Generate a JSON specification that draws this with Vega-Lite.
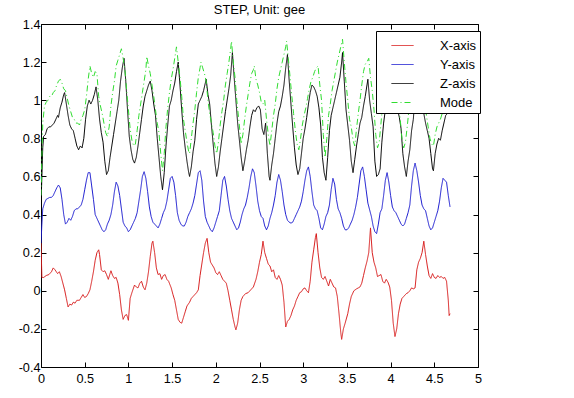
{
"$schema": "https://vega.github.io/schema/vega-lite/v6.json",
"width": 437, "height": 343,
"autosize": {"type": "none"},
"padding": {"left": 41, "top": 24, "right": 96, "bottom": 31},
"background": "white",
"title": {"text": "STEP, Unit: gee", "font": "Liberation Sans", "fontSize": 13, "fontWeight": "normal", "color": "#000", "offset": 1, "anchor": "middle", "frame": "group"},
"config": {
  "view": {"stroke": "#000", "strokeWidth": 1},
  "axis": {"domain": false, "grid": false, "tickColor": "#000", "tickSize": -5, "tickWidth": 1, "labelFont": "Liberation Sans", "labelFontSize": 12.7, "labelColor": "#000", "title": null},
  "legend": {"labelFont": "Liberation Sans", "labelFontSize": 13, "labelColor": "#000"}
},
"data": {"values": [
{"s":"X-axis","t":0,"v":0.25},{"s":"X-axis","t":0.01,"v":0.07},{"s":"X-axis","t":0.03,"v":0.07},{"s":"X-axis","t":0.06,"v":0.08},{"s":"X-axis","t":0.09,"v":0.085},{"s":"X-axis","t":0.12,"v":0.1},{"s":"X-axis","t":0.14,"v":0.12},{"s":"X-axis","t":0.16,"v":0.11},{"s":"X-axis","t":0.19,"v":0.09},{"s":"X-axis","t":0.21,"v":0.1},{"s":"X-axis","t":0.23,"v":0.075},{"s":"X-axis","t":0.25,"v":0.04},{"s":"X-axis","t":0.27,"v":0.005},{"s":"X-axis","t":0.29,"v":-0.04},{"s":"X-axis","t":0.31,"v":-0.085},{"s":"X-axis","t":0.33,"v":-0.07},{"s":"X-axis","t":0.35,"v":-0.075},{"s":"X-axis","t":0.37,"v":-0.06},{"s":"X-axis","t":0.39,"v":-0.065},{"s":"X-axis","t":0.41,"v":-0.05},{"s":"X-axis","t":0.44,"v":-0.05},{"s":"X-axis","t":0.46,"v":-0.035},{"s":"X-axis","t":0.48,"v":-0.02},{"s":"X-axis","t":0.5,"v":-0.035},{"s":"X-axis","t":0.52,"v":-0.03},{"s":"X-axis","t":0.54,"v":-0.015},{"s":"X-axis","t":0.56,"v":0.005},{"s":"X-axis","t":0.58,"v":0.05},{"s":"X-axis","t":0.6,"v":0.1},{"s":"X-axis","t":0.62,"v":0.16},{"s":"X-axis","t":0.64,"v":0.2},{"s":"X-axis","t":0.66,"v":0.215},{"s":"X-axis","t":0.67,"v":0.19},{"s":"X-axis","t":0.69,"v":0.11},{"s":"X-axis","t":0.71,"v":0.1},{"s":"X-axis","t":0.73,"v":0.105},{"s":"X-axis","t":0.75,"v":0.085},{"s":"X-axis","t":0.77,"v":0.06},{"s":"X-axis","t":0.79,"v":0.09},{"s":"X-axis","t":0.8,"v":0.105},{"s":"X-axis","t":0.82,"v":0.08},{"s":"X-axis","t":0.84,"v":0.065},{"s":"X-axis","t":0.86,"v":0.07},{"s":"X-axis","t":0.88,"v":0.04},{"s":"X-axis","t":0.9,"v":-0.02},{"s":"X-axis","t":0.92,"v":-0.1},{"s":"X-axis","t":0.94,"v":-0.15},{"s":"X-axis","t":0.96,"v":-0.13},{"s":"X-axis","t":0.98,"v":-0.125},{"s":"X-axis","t":1.0,"v":-0.155},{"s":"X-axis","t":1.02,"v":-0.04},{"s":"X-axis","t":1.04,"v":-0.01},{"s":"X-axis","t":1.07,"v":0.03},{"s":"X-axis","t":1.09,"v":0.02},{"s":"X-axis","t":1.11,"v":0.015},{"s":"X-axis","t":1.13,"v":0.04},{"s":"X-axis","t":1.15,"v":0.05},{"s":"X-axis","t":1.17,"v":0.02},{"s":"X-axis","t":1.19,"v":0.005},{"s":"X-axis","t":1.21,"v":0.04},{"s":"X-axis","t":1.23,"v":0.1},{"s":"X-axis","t":1.25,"v":0.18},{"s":"X-axis","t":1.27,"v":0.25},{"s":"X-axis","t":1.28,"v":0.26},{"s":"X-axis","t":1.3,"v":0.2},{"s":"X-axis","t":1.32,"v":0.12},{"s":"X-axis","t":1.34,"v":0.085},{"s":"X-axis","t":1.36,"v":0.09},{"s":"X-axis","t":1.38,"v":0.06},{"s":"X-axis","t":1.4,"v":0.08},{"s":"X-axis","t":1.42,"v":0.085},{"s":"X-axis","t":1.44,"v":0.06},{"s":"X-axis","t":1.46,"v":0.05},{"s":"X-axis","t":1.49,"v":0.015},{"s":"X-axis","t":1.51,"v":-0.02},{"s":"X-axis","t":1.53,"v":-0.05},{"s":"X-axis","t":1.55,"v":-0.1},{"s":"X-axis","t":1.57,"v":-0.15},{"s":"X-axis","t":1.59,"v":-0.165},{"s":"X-axis","t":1.61,"v":-0.17},{"s":"X-axis","t":1.63,"v":-0.14},{"s":"X-axis","t":1.65,"v":-0.11},{"s":"X-axis","t":1.67,"v":-0.08},{"s":"X-axis","t":1.7,"v":-0.06},{"s":"X-axis","t":1.72,"v":-0.04},{"s":"X-axis","t":1.74,"v":-0.03},{"s":"X-axis","t":1.76,"v":-0.02},{"s":"X-axis","t":1.78,"v":-0.01},{"s":"X-axis","t":1.8,"v":0.005},{"s":"X-axis","t":1.82,"v":0.08},{"s":"X-axis","t":1.84,"v":0.14},{"s":"X-axis","t":1.86,"v":0.2},{"s":"X-axis","t":1.88,"v":0.25},{"s":"X-axis","t":1.9,"v":0.275},{"s":"X-axis","t":1.92,"v":0.2},{"s":"X-axis","t":1.94,"v":0.15},{"s":"X-axis","t":1.96,"v":0.135},{"s":"X-axis","t":1.98,"v":0.12},{"s":"X-axis","t":2.0,"v":0.095},{"s":"X-axis","t":2.02,"v":0.085},{"s":"X-axis","t":2.04,"v":0.1},{"s":"X-axis","t":2.06,"v":0.08},{"s":"X-axis","t":2.08,"v":0.06},{"s":"X-axis","t":2.1,"v":0.05},{"s":"X-axis","t":2.12,"v":0.04},{"s":"X-axis","t":2.14,"v":0.0},{"s":"X-axis","t":2.16,"v":-0.05},{"s":"X-axis","t":2.18,"v":-0.1},{"s":"X-axis","t":2.2,"v":-0.15},{"s":"X-axis","t":2.22,"v":-0.19},{"s":"X-axis","t":2.23,"v":-0.205},{"s":"X-axis","t":2.25,"v":-0.17},{"s":"X-axis","t":2.27,"v":-0.1},{"s":"X-axis","t":2.29,"v":-0.05},{"s":"X-axis","t":2.31,"v":-0.03},{"s":"X-axis","t":2.34,"v":-0.015},{"s":"X-axis","t":2.37,"v":-0.01},{"s":"X-axis","t":2.4,"v":0.005},{"s":"X-axis","t":2.43,"v":0.02},{"s":"X-axis","t":2.46,"v":0.06},{"s":"X-axis","t":2.48,"v":0.1},{"s":"X-axis","t":2.5,"v":0.15},{"s":"X-axis","t":2.52,"v":0.19},{"s":"X-axis","t":2.54,"v":0.26},{"s":"X-axis","t":2.56,"v":0.2},{"s":"X-axis","t":2.58,"v":0.17},{"s":"X-axis","t":2.6,"v":0.14},{"s":"X-axis","t":2.62,"v":0.13},{"s":"X-axis","t":2.64,"v":0.1},{"s":"X-axis","t":2.66,"v":0.11},{"s":"X-axis","t":2.68,"v":0.07},{"s":"X-axis","t":2.7,"v":0.06},{"s":"X-axis","t":2.72,"v":0.08},{"s":"X-axis","t":2.74,"v":0.06},{"s":"X-axis","t":2.76,"v":0.03},{"s":"X-axis","t":2.78,"v":-0.06},{"s":"X-axis","t":2.8,"v":-0.19},{"s":"X-axis","t":2.82,"v":-0.16},{"s":"X-axis","t":2.84,"v":-0.15},{"s":"X-axis","t":2.86,"v":-0.13},{"s":"X-axis","t":2.88,"v":-0.1},{"s":"X-axis","t":2.9,"v":-0.08},{"s":"X-axis","t":2.92,"v":-0.05},{"s":"X-axis","t":2.94,"v":-0.03},{"s":"X-axis","t":2.96,"v":-0.01},{"s":"X-axis","t":2.98,"v":-0.005},{"s":"X-axis","t":3.0,"v":0.01},{"s":"X-axis","t":3.02,"v":0.015},{"s":"X-axis","t":3.04,"v":0.0},{"s":"X-axis","t":3.06,"v":-0.01},{"s":"X-axis","t":3.08,"v":0.05},{"s":"X-axis","t":3.1,"v":0.15},{"s":"X-axis","t":3.12,"v":0.215},{"s":"X-axis","t":3.14,"v":0.28},{"s":"X-axis","t":3.15,"v":0.3},{"s":"X-axis","t":3.17,"v":0.2},{"s":"X-axis","t":3.19,"v":0.12},{"s":"X-axis","t":3.21,"v":0.07},{"s":"X-axis","t":3.23,"v":0.06},{"s":"X-axis","t":3.25,"v":0.075},{"s":"X-axis","t":3.27,"v":0.05},{"s":"X-axis","t":3.29,"v":0.025},{"s":"X-axis","t":3.31,"v":0.06},{"s":"X-axis","t":3.33,"v":0.04},{"s":"X-axis","t":3.35,"v":0.02},{"s":"X-axis","t":3.37,"v":0.015},{"s":"X-axis","t":3.39,"v":-0.03},{"s":"X-axis","t":3.41,"v":-0.12},{"s":"X-axis","t":3.43,"v":-0.22},{"s":"X-axis","t":3.44,"v":-0.255},{"s":"X-axis","t":3.46,"v":-0.2},{"s":"X-axis","t":3.48,"v":-0.17},{"s":"X-axis","t":3.51,"v":-0.12},{"s":"X-axis","t":3.53,"v":-0.07},{"s":"X-axis","t":3.55,"v":-0.03},{"s":"X-axis","t":3.58,"v":0.0},{"s":"X-axis","t":3.61,"v":0.01},{"s":"X-axis","t":3.63,"v":0.015},{"s":"X-axis","t":3.65,"v":0.02},{"s":"X-axis","t":3.67,"v":0.04},{"s":"X-axis","t":3.69,"v":0.08},{"s":"X-axis","t":3.71,"v":0.12},{"s":"X-axis","t":3.73,"v":0.155},{"s":"X-axis","t":3.75,"v":0.2},{"s":"X-axis","t":3.77,"v":0.33},{"s":"X-axis","t":3.79,"v":0.2},{"s":"X-axis","t":3.81,"v":0.15},{"s":"X-axis","t":3.83,"v":0.12},{"s":"X-axis","t":3.85,"v":0.075},{"s":"X-axis","t":3.87,"v":0.08},{"s":"X-axis","t":3.89,"v":0.085},{"s":"X-axis","t":3.91,"v":0.05},{"s":"X-axis","t":3.93,"v":0.04},{"s":"X-axis","t":3.95,"v":0.06},{"s":"X-axis","t":3.97,"v":0.045},{"s":"X-axis","t":3.99,"v":0.02},{"s":"X-axis","t":4.01,"v":-0.05},{"s":"X-axis","t":4.03,"v":-0.17},{"s":"X-axis","t":4.05,"v":-0.24},{"s":"X-axis","t":4.07,"v":-0.2},{"s":"X-axis","t":4.09,"v":-0.12},{"s":"X-axis","t":4.11,"v":-0.07},{"s":"X-axis","t":4.13,"v":-0.04},{"s":"X-axis","t":4.15,"v":-0.03},{"s":"X-axis","t":4.18,"v":-0.015},{"s":"X-axis","t":4.2,"v":-0.01},{"s":"X-axis","t":4.22,"v":0.0},{"s":"X-axis","t":4.24,"v":0.015},{"s":"X-axis","t":4.26,"v":0.01},{"s":"X-axis","t":4.28,"v":0.015},{"s":"X-axis","t":4.3,"v":0.11},{"s":"X-axis","t":4.32,"v":0.15},{"s":"X-axis","t":4.34,"v":0.17},{"s":"X-axis","t":4.36,"v":0.2},{"s":"X-axis","t":4.38,"v":0.26},{"s":"X-axis","t":4.4,"v":0.19},{"s":"X-axis","t":4.42,"v":0.13},{"s":"X-axis","t":4.44,"v":0.08},{"s":"X-axis","t":4.46,"v":0.065},{"s":"X-axis","t":4.48,"v":0.09},{"s":"X-axis","t":4.5,"v":0.07},{"s":"X-axis","t":4.52,"v":0.065},{"s":"X-axis","t":4.54,"v":0.08},{"s":"X-axis","t":4.56,"v":0.07},{"s":"X-axis","t":4.58,"v":0.075},{"s":"X-axis","t":4.6,"v":0.065},{"s":"X-axis","t":4.62,"v":0.07},{"s":"X-axis","t":4.64,"v":0.05},{"s":"X-axis","t":4.66,"v":-0.05},{"s":"X-axis","t":4.67,"v":-0.13},{"s":"X-axis","t":4.68,"v":-0.12},
{"s":"Y-axis","t":0,"v":0.25},{"s":"Y-axis","t":0.01,"v":0.35},{"s":"Y-axis","t":0.02,"v":0.43},{"s":"Y-axis","t":0.04,"v":0.46},{"s":"Y-axis","t":0.06,"v":0.48},{"s":"Y-axis","t":0.08,"v":0.485},{"s":"Y-axis","t":0.1,"v":0.49},{"s":"Y-axis","t":0.12,"v":0.49},{"s":"Y-axis","t":0.14,"v":0.5},{"s":"Y-axis","t":0.16,"v":0.52},{"s":"Y-axis","t":0.18,"v":0.54},{"s":"Y-axis","t":0.2,"v":0.555},{"s":"Y-axis","t":0.22,"v":0.54},{"s":"Y-axis","t":0.24,"v":0.48},{"s":"Y-axis","t":0.26,"v":0.4},{"s":"Y-axis","t":0.28,"v":0.35},{"s":"Y-axis","t":0.3,"v":0.36},{"s":"Y-axis","t":0.32,"v":0.38},{"s":"Y-axis","t":0.34,"v":0.37},{"s":"Y-axis","t":0.36,"v":0.39},{"s":"Y-axis","t":0.38,"v":0.42},{"s":"Y-axis","t":0.4,"v":0.43},{"s":"Y-axis","t":0.42,"v":0.43},{"s":"Y-axis","t":0.44,"v":0.44},{"s":"Y-axis","t":0.46,"v":0.45},{"s":"Y-axis","t":0.48,"v":0.48},{"s":"Y-axis","t":0.5,"v":0.53},{"s":"Y-axis","t":0.52,"v":0.58},{"s":"Y-axis","t":0.54,"v":0.62},{"s":"Y-axis","t":0.56,"v":0.62},{"s":"Y-axis","t":0.58,"v":0.55},{"s":"Y-axis","t":0.6,"v":0.48},{"s":"Y-axis","t":0.62,"v":0.4},{"s":"Y-axis","t":0.64,"v":0.38},{"s":"Y-axis","t":0.66,"v":0.36},{"s":"Y-axis","t":0.68,"v":0.34},{"s":"Y-axis","t":0.7,"v":0.32},{"s":"Y-axis","t":0.72,"v":0.31},{"s":"Y-axis","t":0.74,"v":0.32},{"s":"Y-axis","t":0.76,"v":0.35},{"s":"Y-axis","t":0.78,"v":0.37},{"s":"Y-axis","t":0.8,"v":0.4},{"s":"Y-axis","t":0.82,"v":0.45},{"s":"Y-axis","t":0.84,"v":0.52},{"s":"Y-axis","t":0.86,"v":0.57},{"s":"Y-axis","t":0.88,"v":0.55},{"s":"Y-axis","t":0.9,"v":0.5},{"s":"Y-axis","t":0.92,"v":0.43},{"s":"Y-axis","t":0.94,"v":0.36},{"s":"Y-axis","t":0.96,"v":0.34},{"s":"Y-axis","t":0.98,"v":0.33},{"s":"Y-axis","t":1.0,"v":0.31},{"s":"Y-axis","t":1.02,"v":0.32},{"s":"Y-axis","t":1.04,"v":0.34},{"s":"Y-axis","t":1.06,"v":0.36},{"s":"Y-axis","t":1.08,"v":0.38},{"s":"Y-axis","t":1.1,"v":0.41},{"s":"Y-axis","t":1.12,"v":0.47},{"s":"Y-axis","t":1.14,"v":0.53},{"s":"Y-axis","t":1.16,"v":0.6},{"s":"Y-axis","t":1.18,"v":0.625},{"s":"Y-axis","t":1.2,"v":0.59},{"s":"Y-axis","t":1.22,"v":0.52},{"s":"Y-axis","t":1.24,"v":0.44},{"s":"Y-axis","t":1.26,"v":0.39},{"s":"Y-axis","t":1.28,"v":0.36},{"s":"Y-axis","t":1.3,"v":0.35},{"s":"Y-axis","t":1.32,"v":0.34},{"s":"Y-axis","t":1.34,"v":0.33},{"s":"Y-axis","t":1.36,"v":0.35},{"s":"Y-axis","t":1.38,"v":0.38},{"s":"Y-axis","t":1.4,"v":0.41},{"s":"Y-axis","t":1.42,"v":0.43},{"s":"Y-axis","t":1.44,"v":0.47},{"s":"Y-axis","t":1.46,"v":0.53},{"s":"Y-axis","t":1.48,"v":0.59},{"s":"Y-axis","t":1.5,"v":0.6},{"s":"Y-axis","t":1.52,"v":0.57},{"s":"Y-axis","t":1.54,"v":0.5},{"s":"Y-axis","t":1.56,"v":0.41},{"s":"Y-axis","t":1.58,"v":0.37},{"s":"Y-axis","t":1.6,"v":0.35},{"s":"Y-axis","t":1.62,"v":0.34},{"s":"Y-axis","t":1.64,"v":0.34},{"s":"Y-axis","t":1.66,"v":0.36},{"s":"Y-axis","t":1.68,"v":0.39},{"s":"Y-axis","t":1.7,"v":0.41},{"s":"Y-axis","t":1.72,"v":0.43},{"s":"Y-axis","t":1.74,"v":0.46},{"s":"Y-axis","t":1.76,"v":0.5},{"s":"Y-axis","t":1.78,"v":0.56},{"s":"Y-axis","t":1.8,"v":0.62},{"s":"Y-axis","t":1.82,"v":0.63},{"s":"Y-axis","t":1.84,"v":0.58},{"s":"Y-axis","t":1.86,"v":0.47},{"s":"Y-axis","t":1.88,"v":0.39},{"s":"Y-axis","t":1.9,"v":0.36},{"s":"Y-axis","t":1.92,"v":0.34},{"s":"Y-axis","t":1.94,"v":0.32},{"s":"Y-axis","t":1.96,"v":0.31},{"s":"Y-axis","t":1.98,"v":0.33},{"s":"Y-axis","t":2.0,"v":0.36},{"s":"Y-axis","t":2.02,"v":0.39},{"s":"Y-axis","t":2.04,"v":0.42},{"s":"Y-axis","t":2.06,"v":0.5},{"s":"Y-axis","t":2.08,"v":0.58},{"s":"Y-axis","t":2.1,"v":0.6},{"s":"Y-axis","t":2.12,"v":0.55},{"s":"Y-axis","t":2.14,"v":0.48},{"s":"Y-axis","t":2.16,"v":0.42},{"s":"Y-axis","t":2.18,"v":0.38},{"s":"Y-axis","t":2.2,"v":0.36},{"s":"Y-axis","t":2.22,"v":0.34},{"s":"Y-axis","t":2.24,"v":0.32},{"s":"Y-axis","t":2.26,"v":0.33},{"s":"Y-axis","t":2.28,"v":0.36},{"s":"Y-axis","t":2.3,"v":0.4},{"s":"Y-axis","t":2.32,"v":0.43},{"s":"Y-axis","t":2.34,"v":0.45},{"s":"Y-axis","t":2.36,"v":0.49},{"s":"Y-axis","t":2.38,"v":0.54},{"s":"Y-axis","t":2.4,"v":0.6},{"s":"Y-axis","t":2.42,"v":0.64},{"s":"Y-axis","t":2.44,"v":0.62},{"s":"Y-axis","t":2.46,"v":0.55},{"s":"Y-axis","t":2.48,"v":0.47},{"s":"Y-axis","t":2.5,"v":0.42},{"s":"Y-axis","t":2.52,"v":0.39},{"s":"Y-axis","t":2.54,"v":0.38},{"s":"Y-axis","t":2.56,"v":0.34},{"s":"Y-axis","t":2.58,"v":0.32},{"s":"Y-axis","t":2.6,"v":0.34},{"s":"Y-axis","t":2.62,"v":0.38},{"s":"Y-axis","t":2.64,"v":0.41},{"s":"Y-axis","t":2.66,"v":0.45},{"s":"Y-axis","t":2.68,"v":0.5},{"s":"Y-axis","t":2.7,"v":0.57},{"s":"Y-axis","t":2.72,"v":0.61},{"s":"Y-axis","t":2.74,"v":0.58},{"s":"Y-axis","t":2.76,"v":0.52},{"s":"Y-axis","t":2.78,"v":0.45},{"s":"Y-axis","t":2.8,"v":0.4},{"s":"Y-axis","t":2.82,"v":0.37},{"s":"Y-axis","t":2.84,"v":0.36},{"s":"Y-axis","t":2.86,"v":0.355},{"s":"Y-axis","t":2.88,"v":0.36},{"s":"Y-axis","t":2.9,"v":0.38},{"s":"Y-axis","t":2.92,"v":0.4},{"s":"Y-axis","t":2.94,"v":0.42},{"s":"Y-axis","t":2.96,"v":0.44},{"s":"Y-axis","t":2.98,"v":0.47},{"s":"Y-axis","t":3.0,"v":0.52},{"s":"Y-axis","t":3.02,"v":0.58},{"s":"Y-axis","t":3.04,"v":0.63},{"s":"Y-axis","t":3.06,"v":0.65},{"s":"Y-axis","t":3.08,"v":0.6},{"s":"Y-axis","t":3.1,"v":0.52},{"s":"Y-axis","t":3.12,"v":0.45},{"s":"Y-axis","t":3.14,"v":0.43},{"s":"Y-axis","t":3.16,"v":0.42},{"s":"Y-axis","t":3.18,"v":0.38},{"s":"Y-axis","t":3.2,"v":0.33},{"s":"Y-axis","t":3.22,"v":0.32},{"s":"Y-axis","t":3.24,"v":0.35},{"s":"Y-axis","t":3.26,"v":0.39},{"s":"Y-axis","t":3.28,"v":0.41},{"s":"Y-axis","t":3.3,"v":0.45},{"s":"Y-axis","t":3.32,"v":0.53},{"s":"Y-axis","t":3.34,"v":0.59},{"s":"Y-axis","t":3.36,"v":0.56},{"s":"Y-axis","t":3.38,"v":0.48},{"s":"Y-axis","t":3.4,"v":0.43},{"s":"Y-axis","t":3.42,"v":0.41},{"s":"Y-axis","t":3.44,"v":0.38},{"s":"Y-axis","t":3.46,"v":0.34},{"s":"Y-axis","t":3.48,"v":0.32},{"s":"Y-axis","t":3.5,"v":0.32},{"s":"Y-axis","t":3.52,"v":0.33},{"s":"Y-axis","t":3.54,"v":0.35},{"s":"Y-axis","t":3.56,"v":0.37},{"s":"Y-axis","t":3.58,"v":0.4},{"s":"Y-axis","t":3.6,"v":0.44},{"s":"Y-axis","t":3.62,"v":0.49},{"s":"Y-axis","t":3.64,"v":0.56},{"s":"Y-axis","t":3.66,"v":0.63},{"s":"Y-axis","t":3.68,"v":0.65},{"s":"Y-axis","t":3.7,"v":0.6},{"s":"Y-axis","t":3.72,"v":0.53},{"s":"Y-axis","t":3.74,"v":0.46},{"s":"Y-axis","t":3.76,"v":0.425},{"s":"Y-axis","t":3.78,"v":0.39},{"s":"Y-axis","t":3.8,"v":0.34},{"s":"Y-axis","t":3.82,"v":0.31},{"s":"Y-axis","t":3.84,"v":0.3},{"s":"Y-axis","t":3.86,"v":0.35},{"s":"Y-axis","t":3.88,"v":0.41},{"s":"Y-axis","t":3.9,"v":0.43},{"s":"Y-axis","t":3.92,"v":0.5},{"s":"Y-axis","t":3.94,"v":0.58},{"s":"Y-axis","t":3.96,"v":0.62},{"s":"Y-axis","t":3.98,"v":0.57},{"s":"Y-axis","t":4.0,"v":0.5},{"s":"Y-axis","t":4.02,"v":0.44},{"s":"Y-axis","t":4.04,"v":0.42},{"s":"Y-axis","t":4.06,"v":0.41},{"s":"Y-axis","t":4.08,"v":0.39},{"s":"Y-axis","t":4.1,"v":0.37},{"s":"Y-axis","t":4.12,"v":0.35},{"s":"Y-axis","t":4.14,"v":0.34},{"s":"Y-axis","t":4.16,"v":0.35},{"s":"Y-axis","t":4.18,"v":0.38},{"s":"Y-axis","t":4.2,"v":0.41},{"s":"Y-axis","t":4.22,"v":0.45},{"s":"Y-axis","t":4.24,"v":0.55},{"s":"Y-axis","t":4.26,"v":0.63},{"s":"Y-axis","t":4.28,"v":0.67},{"s":"Y-axis","t":4.3,"v":0.63},{"s":"Y-axis","t":4.32,"v":0.57},{"s":"Y-axis","t":4.34,"v":0.5},{"s":"Y-axis","t":4.36,"v":0.45},{"s":"Y-axis","t":4.38,"v":0.43},{"s":"Y-axis","t":4.4,"v":0.42},{"s":"Y-axis","t":4.42,"v":0.38},{"s":"Y-axis","t":4.44,"v":0.34},{"s":"Y-axis","t":4.46,"v":0.32},{"s":"Y-axis","t":4.48,"v":0.33},{"s":"Y-axis","t":4.5,"v":0.36},{"s":"Y-axis","t":4.52,"v":0.39},{"s":"Y-axis","t":4.54,"v":0.42},{"s":"Y-axis","t":4.56,"v":0.47},{"s":"Y-axis","t":4.58,"v":0.54},{"s":"Y-axis","t":4.6,"v":0.59},{"s":"Y-axis","t":4.62,"v":0.58},{"s":"Y-axis","t":4.64,"v":0.57},{"s":"Y-axis","t":4.66,"v":0.5},{"s":"Y-axis","t":4.68,"v":0.44},
{"s":"Z-axis","t":0,"v":0.45},{"s":"Z-axis","t":0.01,"v":0.6},{"s":"Z-axis","t":0.02,"v":0.75},{"s":"Z-axis","t":0.03,"v":0.81},{"s":"Z-axis","t":0.05,"v":0.82},{"s":"Z-axis","t":0.07,"v":0.85},{"s":"Z-axis","t":0.09,"v":0.86},{"s":"Z-axis","t":0.11,"v":0.86},{"s":"Z-axis","t":0.13,"v":0.87},{"s":"Z-axis","t":0.15,"v":0.88},{"s":"Z-axis","t":0.17,"v":0.9},{"s":"Z-axis","t":0.19,"v":0.92},{"s":"Z-axis","t":0.2,"v":0.91},{"s":"Z-axis","t":0.22,"v":0.96},{"s":"Z-axis","t":0.24,"v":0.99},{"s":"Z-axis","t":0.26,"v":1.03},{"s":"Z-axis","t":0.27,"v":1.04},{"s":"Z-axis","t":0.29,"v":0.98},{"s":"Z-axis","t":0.31,"v":0.92},{"s":"Z-axis","t":0.33,"v":0.87},{"s":"Z-axis","t":0.35,"v":0.85},{"s":"Z-axis","t":0.37,"v":0.84},{"s":"Z-axis","t":0.39,"v":0.8},{"s":"Z-axis","t":0.41,"v":0.76},{"s":"Z-axis","t":0.43,"v":0.74},{"s":"Z-axis","t":0.45,"v":0.76},{"s":"Z-axis","t":0.47,"v":0.75},{"s":"Z-axis","t":0.49,"v":0.8},{"s":"Z-axis","t":0.51,"v":0.9},{"s":"Z-axis","t":0.53,"v":0.97},{"s":"Z-axis","t":0.55,"v":1.0},{"s":"Z-axis","t":0.57,"v":0.98},{"s":"Z-axis","t":0.59,"v":1.0},{"s":"Z-axis","t":0.61,"v":1.03},{"s":"Z-axis","t":0.63,"v":1.07},{"s":"Z-axis","t":0.65,"v":1.0},{"s":"Z-axis","t":0.67,"v":0.9},{"s":"Z-axis","t":0.69,"v":0.83},{"s":"Z-axis","t":0.71,"v":0.78},{"s":"Z-axis","t":0.73,"v":0.68},{"s":"Z-axis","t":0.75,"v":0.61},{"s":"Z-axis","t":0.77,"v":0.63},{"s":"Z-axis","t":0.79,"v":0.7},{"s":"Z-axis","t":0.81,"v":0.76},{"s":"Z-axis","t":0.83,"v":0.82},{"s":"Z-axis","t":0.85,"v":0.88},{"s":"Z-axis","t":0.87,"v":0.94},{"s":"Z-axis","t":0.89,"v":1.0},{"s":"Z-axis","t":0.91,"v":1.1},{"s":"Z-axis","t":0.93,"v":1.17},{"s":"Z-axis","t":0.95,"v":1.22},{"s":"Z-axis","t":0.97,"v":1.1},{"s":"Z-axis","t":0.99,"v":0.95},{"s":"Z-axis","t":1.01,"v":0.81},{"s":"Z-axis","t":1.03,"v":0.74},{"s":"Z-axis","t":1.05,"v":0.69},{"s":"Z-axis","t":1.07,"v":0.67},{"s":"Z-axis","t":1.09,"v":0.7},{"s":"Z-axis","t":1.11,"v":0.76},{"s":"Z-axis","t":1.13,"v":0.83},{"s":"Z-axis","t":1.15,"v":0.9},{"s":"Z-axis","t":1.17,"v":0.97},{"s":"Z-axis","t":1.19,"v":1.02},{"s":"Z-axis","t":1.21,"v":1.05},{"s":"Z-axis","t":1.23,"v":1.08},{"s":"Z-axis","t":1.25,"v":1.1},{"s":"Z-axis","t":1.27,"v":1.05},{"s":"Z-axis","t":1.29,"v":0.98},{"s":"Z-axis","t":1.31,"v":0.92},{"s":"Z-axis","t":1.33,"v":0.8},{"s":"Z-axis","t":1.35,"v":0.7},{"s":"Z-axis","t":1.37,"v":0.6},{"s":"Z-axis","t":1.39,"v":0.53},{"s":"Z-axis","t":1.41,"v":0.62},{"s":"Z-axis","t":1.43,"v":0.76},{"s":"Z-axis","t":1.45,"v":0.87},{"s":"Z-axis","t":1.47,"v":0.97},{"s":"Z-axis","t":1.49,"v":1.0},{"s":"Z-axis","t":1.51,"v":1.05},{"s":"Z-axis","t":1.53,"v":1.09},{"s":"Z-axis","t":1.55,"v":1.15},{"s":"Z-axis","t":1.57,"v":1.2},{"s":"Z-axis","t":1.59,"v":1.08},{"s":"Z-axis","t":1.61,"v":0.95},{"s":"Z-axis","t":1.63,"v":0.83},{"s":"Z-axis","t":1.65,"v":0.75},{"s":"Z-axis","t":1.67,"v":0.68},{"s":"Z-axis","t":1.69,"v":0.62},{"s":"Z-axis","t":1.7,"v":0.6},{"s":"Z-axis","t":1.72,"v":0.65},{"s":"Z-axis","t":1.74,"v":0.73},{"s":"Z-axis","t":1.76,"v":0.79},{"s":"Z-axis","t":1.78,"v":0.9},{"s":"Z-axis","t":1.8,"v":0.98},{"s":"Z-axis","t":1.82,"v":1.0},{"s":"Z-axis","t":1.84,"v":1.02},{"s":"Z-axis","t":1.86,"v":1.05},{"s":"Z-axis","t":1.88,"v":1.09},{"s":"Z-axis","t":1.89,"v":1.11},{"s":"Z-axis","t":1.91,"v":1.03},{"s":"Z-axis","t":1.93,"v":0.98},{"s":"Z-axis","t":1.95,"v":0.87},{"s":"Z-axis","t":1.97,"v":0.77},{"s":"Z-axis","t":1.99,"v":0.67},{"s":"Z-axis","t":2.01,"v":0.6},{"s":"Z-axis","t":2.03,"v":0.65},{"s":"Z-axis","t":2.05,"v":0.73},{"s":"Z-axis","t":2.07,"v":0.8},{"s":"Z-axis","t":2.09,"v":0.87},{"s":"Z-axis","t":2.11,"v":0.94},{"s":"Z-axis","t":2.13,"v":1.0},{"s":"Z-axis","t":2.15,"v":1.06},{"s":"Z-axis","t":2.17,"v":1.13},{"s":"Z-axis","t":2.19,"v":1.25},{"s":"Z-axis","t":2.21,"v":1.12},{"s":"Z-axis","t":2.23,"v":1.0},{"s":"Z-axis","t":2.25,"v":0.88},{"s":"Z-axis","t":2.27,"v":0.79},{"s":"Z-axis","t":2.29,"v":0.7},{"s":"Z-axis","t":2.31,"v":0.63},{"s":"Z-axis","t":2.33,"v":0.68},{"s":"Z-axis","t":2.35,"v":0.74},{"s":"Z-axis","t":2.37,"v":0.79},{"s":"Z-axis","t":2.39,"v":0.86},{"s":"Z-axis","t":2.41,"v":0.92},{"s":"Z-axis","t":2.43,"v":0.95},{"s":"Z-axis","t":2.45,"v":0.94},{"s":"Z-axis","t":2.47,"v":0.96},{"s":"Z-axis","t":2.49,"v":0.97},{"s":"Z-axis","t":2.51,"v":0.95},{"s":"Z-axis","t":2.53,"v":0.85},{"s":"Z-axis","t":2.55,"v":0.82},{"s":"Z-axis","t":2.57,"v":0.88},{"s":"Z-axis","t":2.59,"v":0.72},{"s":"Z-axis","t":2.61,"v":0.6},{"s":"Z-axis","t":2.62,"v":0.58},{"s":"Z-axis","t":2.64,"v":0.66},{"s":"Z-axis","t":2.66,"v":0.72},{"s":"Z-axis","t":2.68,"v":0.8},{"s":"Z-axis","t":2.7,"v":0.88},{"s":"Z-axis","t":2.72,"v":0.94},{"s":"Z-axis","t":2.74,"v":0.97},{"s":"Z-axis","t":2.76,"v":1.02},{"s":"Z-axis","t":2.78,"v":1.08},{"s":"Z-axis","t":2.8,"v":1.17},{"s":"Z-axis","t":2.82,"v":1.24},{"s":"Z-axis","t":2.84,"v":1.1},{"s":"Z-axis","t":2.86,"v":0.98},{"s":"Z-axis","t":2.88,"v":0.86},{"s":"Z-axis","t":2.9,"v":0.75},{"s":"Z-axis","t":2.92,"v":0.66},{"s":"Z-axis","t":2.94,"v":0.61},{"s":"Z-axis","t":2.96,"v":0.64},{"s":"Z-axis","t":2.98,"v":0.72},{"s":"Z-axis","t":3.0,"v":0.8},{"s":"Z-axis","t":3.02,"v":0.85},{"s":"Z-axis","t":3.04,"v":0.91},{"s":"Z-axis","t":3.06,"v":0.98},{"s":"Z-axis","t":3.08,"v":1.04},{"s":"Z-axis","t":3.1,"v":1.08},{"s":"Z-axis","t":3.12,"v":1.07},{"s":"Z-axis","t":3.14,"v":1.05},{"s":"Z-axis","t":3.16,"v":1.02},{"s":"Z-axis","t":3.18,"v":0.96},{"s":"Z-axis","t":3.2,"v":0.87},{"s":"Z-axis","t":3.22,"v":0.7},{"s":"Z-axis","t":3.24,"v":0.62},{"s":"Z-axis","t":3.26,"v":0.58},{"s":"Z-axis","t":3.28,"v":0.7},{"s":"Z-axis","t":3.3,"v":0.84},{"s":"Z-axis","t":3.32,"v":0.92},{"s":"Z-axis","t":3.34,"v":0.96},{"s":"Z-axis","t":3.36,"v":1.0},{"s":"Z-axis","t":3.38,"v":1.04},{"s":"Z-axis","t":3.4,"v":1.08},{"s":"Z-axis","t":3.42,"v":1.12},{"s":"Z-axis","t":3.44,"v":1.2},{"s":"Z-axis","t":3.45,"v":1.25},{"s":"Z-axis","t":3.47,"v":1.1},{"s":"Z-axis","t":3.49,"v":0.95},{"s":"Z-axis","t":3.51,"v":0.87},{"s":"Z-axis","t":3.53,"v":0.79},{"s":"Z-axis","t":3.55,"v":0.68},{"s":"Z-axis","t":3.57,"v":0.62},{"s":"Z-axis","t":3.59,"v":0.69},{"s":"Z-axis","t":3.61,"v":0.76},{"s":"Z-axis","t":3.63,"v":0.82},{"s":"Z-axis","t":3.65,"v":0.88},{"s":"Z-axis","t":3.67,"v":0.91},{"s":"Z-axis","t":3.69,"v":0.97},{"s":"Z-axis","t":3.71,"v":1.02},{"s":"Z-axis","t":3.73,"v":1.08},{"s":"Z-axis","t":3.74,"v":1.11},{"s":"Z-axis","t":3.76,"v":1.0},{"s":"Z-axis","t":3.78,"v":0.93},{"s":"Z-axis","t":3.8,"v":0.86},{"s":"Z-axis","t":3.82,"v":0.68},{"s":"Z-axis","t":3.84,"v":0.6},{"s":"Z-axis","t":3.86,"v":0.61},{"s":"Z-axis","t":3.88,"v":0.64},{"s":"Z-axis","t":3.9,"v":0.78},{"s":"Z-axis","t":3.92,"v":0.88},{"s":"Z-axis","t":3.94,"v":0.95},{"s":"Z-axis","t":3.96,"v":1.0},{"s":"Z-axis","t":3.98,"v":1.05},{"s":"Z-axis","t":4.0,"v":1.1},{"s":"Z-axis","t":4.02,"v":1.12},{"s":"Z-axis","t":4.04,"v":1.05},{"s":"Z-axis","t":4.06,"v":0.98},{"s":"Z-axis","t":4.08,"v":0.95},{"s":"Z-axis","t":4.1,"v":0.91},{"s":"Z-axis","t":4.12,"v":0.85},{"s":"Z-axis","t":4.14,"v":0.72},{"s":"Z-axis","t":4.16,"v":0.65},{"s":"Z-axis","t":4.18,"v":0.6},{"s":"Z-axis","t":4.2,"v":0.68},{"s":"Z-axis","t":4.22,"v":0.74},{"s":"Z-axis","t":4.24,"v":0.84},{"s":"Z-axis","t":4.26,"v":0.9},{"s":"Z-axis","t":4.28,"v":1.02},{"s":"Z-axis","t":4.3,"v":1.1},{"s":"Z-axis","t":4.32,"v":1.15},{"s":"Z-axis","t":4.34,"v":1.05},{"s":"Z-axis","t":4.36,"v":0.95},{"s":"Z-axis","t":4.38,"v":0.93},{"s":"Z-axis","t":4.4,"v":0.88},{"s":"Z-axis","t":4.42,"v":0.84},{"s":"Z-axis","t":4.44,"v":0.8},{"s":"Z-axis","t":4.46,"v":0.72},{"s":"Z-axis","t":4.48,"v":0.64},{"s":"Z-axis","t":4.49,"v":0.63},{"s":"Z-axis","t":4.51,"v":0.72},{"s":"Z-axis","t":4.53,"v":0.77},{"s":"Z-axis","t":4.55,"v":0.8},{"s":"Z-axis","t":4.57,"v":0.79},{"s":"Z-axis","t":4.59,"v":0.84},{"s":"Z-axis","t":4.61,"v":0.88},{"s":"Z-axis","t":4.63,"v":0.92},{"s":"Z-axis","t":4.65,"v":0.93},{"s":"Z-axis","t":4.67,"v":0.95},{"s":"Z-axis","t":4.68,"v":0.94},
{"s":"Mode","t":0,"v":0.5},{"s":"Mode","t":0.01,"v":0.7},{"s":"Mode","t":0.02,"v":0.88},{"s":"Mode","t":0.04,"v":0.97},{"s":"Mode","t":0.06,"v":0.99},{"s":"Mode","t":0.08,"v":1.0},{"s":"Mode","t":0.1,"v":1.02},{"s":"Mode","t":0.12,"v":1.02},{"s":"Mode","t":0.14,"v":1.04},{"s":"Mode","t":0.16,"v":1.05},{"s":"Mode","t":0.18,"v":1.08},{"s":"Mode","t":0.2,"v":1.1},{"s":"Mode","t":0.22,"v":1.11},{"s":"Mode","t":0.24,"v":1.09},{"s":"Mode","t":0.26,"v":1.06},{"s":"Mode","t":0.28,"v":1.05},{"s":"Mode","t":0.3,"v":1.01},{"s":"Mode","t":0.32,"v":0.97},{"s":"Mode","t":0.34,"v":0.94},{"s":"Mode","t":0.36,"v":0.91},{"s":"Mode","t":0.38,"v":0.9},{"s":"Mode","t":0.4,"v":0.88},{"s":"Mode","t":0.42,"v":0.88},{"s":"Mode","t":0.44,"v":0.87},{"s":"Mode","t":0.46,"v":0.9},{"s":"Mode","t":0.48,"v":0.92},{"s":"Mode","t":0.5,"v":0.95},{"s":"Mode","t":0.52,"v":1.02},{"s":"Mode","t":0.54,"v":1.11},{"s":"Mode","t":0.56,"v":1.18},{"s":"Mode","t":0.58,"v":1.14},{"s":"Mode","t":0.6,"v":1.12},{"s":"Mode","t":0.62,"v":1.15},{"s":"Mode","t":0.64,"v":1.14},{"s":"Mode","t":0.66,"v":1.02},{"s":"Mode","t":0.68,"v":0.97},{"s":"Mode","t":0.7,"v":0.93},{"s":"Mode","t":0.72,"v":0.88},{"s":"Mode","t":0.74,"v":0.83},{"s":"Mode","t":0.76,"v":0.81},{"s":"Mode","t":0.78,"v":0.86},{"s":"Mode","t":0.8,"v":0.97},{"s":"Mode","t":0.82,"v":1.04},{"s":"Mode","t":0.84,"v":1.1},{"s":"Mode","t":0.86,"v":1.18},{"s":"Mode","t":0.88,"v":1.21},{"s":"Mode","t":0.9,"v":1.24},{"s":"Mode","t":0.92,"v":1.27},{"s":"Mode","t":0.94,"v":1.22},{"s":"Mode","t":0.96,"v":1.16},{"s":"Mode","t":0.98,"v":1.05},{"s":"Mode","t":1.0,"v":0.95},{"s":"Mode","t":1.02,"v":0.85},{"s":"Mode","t":1.04,"v":0.79},{"s":"Mode","t":1.06,"v":0.76},{"s":"Mode","t":1.08,"v":0.77},{"s":"Mode","t":1.1,"v":0.84},{"s":"Mode","t":1.12,"v":0.92},{"s":"Mode","t":1.14,"v":0.98},{"s":"Mode","t":1.16,"v":1.04},{"s":"Mode","t":1.18,"v":1.1},{"s":"Mode","t":1.2,"v":1.16},{"s":"Mode","t":1.21,"v":1.23},{"s":"Mode","t":1.23,"v":1.18},{"s":"Mode","t":1.25,"v":1.14},{"s":"Mode","t":1.27,"v":1.08},{"s":"Mode","t":1.29,"v":1.02},{"s":"Mode","t":1.31,"v":0.95},{"s":"Mode","t":1.33,"v":0.88},{"s":"Mode","t":1.35,"v":0.83},{"s":"Mode","t":1.37,"v":0.72},{"s":"Mode","t":1.39,"v":0.63},{"s":"Mode","t":1.41,"v":0.72},{"s":"Mode","t":1.43,"v":0.86},{"s":"Mode","t":1.45,"v":0.96},{"s":"Mode","t":1.47,"v":1.04},{"s":"Mode","t":1.49,"v":1.11},{"s":"Mode","t":1.51,"v":1.16},{"s":"Mode","t":1.53,"v":1.22},{"s":"Mode","t":1.55,"v":1.28},{"s":"Mode","t":1.57,"v":1.2},{"s":"Mode","t":1.59,"v":1.12},{"s":"Mode","t":1.61,"v":1.02},{"s":"Mode","t":1.63,"v":0.9},{"s":"Mode","t":1.65,"v":0.84},{"s":"Mode","t":1.67,"v":0.78},{"s":"Mode","t":1.69,"v":0.73},{"s":"Mode","t":1.7,"v":0.72},{"s":"Mode","t":1.72,"v":0.8},{"s":"Mode","t":1.74,"v":0.88},{"s":"Mode","t":1.76,"v":0.95},{"s":"Mode","t":1.78,"v":1.04},{"s":"Mode","t":1.8,"v":1.12},{"s":"Mode","t":1.82,"v":1.17},{"s":"Mode","t":1.83,"v":1.2},{"s":"Mode","t":1.85,"v":1.17},{"s":"Mode","t":1.87,"v":1.14},{"s":"Mode","t":1.89,"v":1.1},{"s":"Mode","t":1.91,"v":1.0},{"s":"Mode","t":1.93,"v":0.93},{"s":"Mode","t":1.95,"v":0.88},{"s":"Mode","t":1.97,"v":0.83},{"s":"Mode","t":1.99,"v":0.76},{"s":"Mode","t":2.01,"v":0.72},{"s":"Mode","t":2.03,"v":0.78},{"s":"Mode","t":2.05,"v":0.87},{"s":"Mode","t":2.07,"v":0.94},{"s":"Mode","t":2.09,"v":1.0},{"s":"Mode","t":2.11,"v":1.08},{"s":"Mode","t":2.13,"v":1.14},{"s":"Mode","t":2.15,"v":1.2},{"s":"Mode","t":2.17,"v":1.27},{"s":"Mode","t":2.18,"v":1.31},{"s":"Mode","t":2.2,"v":1.2},{"s":"Mode","t":2.22,"v":1.12},{"s":"Mode","t":2.24,"v":1.0},{"s":"Mode","t":2.26,"v":0.91},{"s":"Mode","t":2.28,"v":0.82},{"s":"Mode","t":2.29,"v":0.77},{"s":"Mode","t":2.31,"v":0.82},{"s":"Mode","t":2.33,"v":0.9},{"s":"Mode","t":2.35,"v":0.97},{"s":"Mode","t":2.37,"v":1.03},{"s":"Mode","t":2.39,"v":1.09},{"s":"Mode","t":2.41,"v":1.14},{"s":"Mode","t":2.43,"v":1.16},{"s":"Mode","t":2.44,"v":1.18},{"s":"Mode","t":2.46,"v":1.11},{"s":"Mode","t":2.48,"v":1.08},{"s":"Mode","t":2.5,"v":1.04},{"s":"Mode","t":2.52,"v":0.99},{"s":"Mode","t":2.54,"v":0.98},{"s":"Mode","t":2.56,"v":1.0},{"s":"Mode","t":2.58,"v":0.9},{"s":"Mode","t":2.6,"v":0.82},{"s":"Mode","t":2.62,"v":0.76},{"s":"Mode","t":2.64,"v":0.84},{"s":"Mode","t":2.66,"v":0.92},{"s":"Mode","t":2.68,"v":0.98},{"s":"Mode","t":2.7,"v":1.06},{"s":"Mode","t":2.72,"v":1.12},{"s":"Mode","t":2.74,"v":1.16},{"s":"Mode","t":2.76,"v":1.2},{"s":"Mode","t":2.78,"v":1.24},{"s":"Mode","t":2.8,"v":1.28},{"s":"Mode","t":2.81,"v":1.31},{"s":"Mode","t":2.83,"v":1.22},{"s":"Mode","t":2.85,"v":1.12},{"s":"Mode","t":2.87,"v":1.02},{"s":"Mode","t":2.89,"v":0.93},{"s":"Mode","t":2.91,"v":0.84},{"s":"Mode","t":2.93,"v":0.77},{"s":"Mode","t":2.95,"v":0.74},{"s":"Mode","t":2.97,"v":0.8},{"s":"Mode","t":2.99,"v":0.87},{"s":"Mode","t":3.01,"v":0.92},{"s":"Mode","t":3.03,"v":0.96},{"s":"Mode","t":3.05,"v":1.01},{"s":"Mode","t":3.07,"v":1.06},{"s":"Mode","t":3.09,"v":1.1},{"s":"Mode","t":3.11,"v":1.12},{"s":"Mode","t":3.13,"v":1.15},{"s":"Mode","t":3.15,"v":1.17},{"s":"Mode","t":3.17,"v":1.18},{"s":"Mode","t":3.19,"v":1.08},{"s":"Mode","t":3.21,"v":1.0},{"s":"Mode","t":3.23,"v":0.82},{"s":"Mode","t":3.25,"v":0.7},{"s":"Mode","t":3.27,"v":0.8},{"s":"Mode","t":3.29,"v":0.92},{"s":"Mode","t":3.31,"v":0.98},{"s":"Mode","t":3.33,"v":1.05},{"s":"Mode","t":3.35,"v":1.1},{"s":"Mode","t":3.37,"v":1.15},{"s":"Mode","t":3.39,"v":1.2},{"s":"Mode","t":3.41,"v":1.24},{"s":"Mode","t":3.43,"v":1.28},{"s":"Mode","t":3.45,"v":1.32},{"s":"Mode","t":3.47,"v":1.2},{"s":"Mode","t":3.49,"v":1.09},{"s":"Mode","t":3.51,"v":1.0},{"s":"Mode","t":3.53,"v":0.9},{"s":"Mode","t":3.55,"v":0.86},{"s":"Mode","t":3.57,"v":0.79},{"s":"Mode","t":3.59,"v":0.76},{"s":"Mode","t":3.61,"v":0.85},{"s":"Mode","t":3.63,"v":0.93},{"s":"Mode","t":3.65,"v":1.0},{"s":"Mode","t":3.67,"v":1.08},{"s":"Mode","t":3.69,"v":1.15},{"s":"Mode","t":3.71,"v":1.19},{"s":"Mode","t":3.73,"v":1.2},{"s":"Mode","t":3.75,"v":1.22},{"s":"Mode","t":3.77,"v":1.12},{"s":"Mode","t":3.79,"v":1.05},{"s":"Mode","t":3.81,"v":0.95},{"s":"Mode","t":3.83,"v":0.82},{"s":"Mode","t":3.85,"v":0.75},{"s":"Mode","t":3.87,"v":0.78},{"s":"Mode","t":3.89,"v":0.88},{"s":"Mode","t":3.91,"v":0.98},{"s":"Mode","t":3.93,"v":1.06},{"s":"Mode","t":3.95,"v":1.12},{"s":"Mode","t":3.97,"v":1.16},{"s":"Mode","t":3.99,"v":1.2},{"s":"Mode","t":4.01,"v":1.22},{"s":"Mode","t":4.03,"v":1.15},{"s":"Mode","t":4.05,"v":1.08},{"s":"Mode","t":4.07,"v":1.04},{"s":"Mode","t":4.09,"v":0.98},{"s":"Mode","t":4.11,"v":0.9},{"s":"Mode","t":4.13,"v":0.8},{"s":"Mode","t":4.15,"v":0.75},{"s":"Mode","t":4.17,"v":0.78},{"s":"Mode","t":4.19,"v":0.86},{"s":"Mode","t":4.21,"v":0.95},{"s":"Mode","t":4.23,"v":1.04},{"s":"Mode","t":4.25,"v":1.12},{"s":"Mode","t":4.27,"v":1.18},{"s":"Mode","t":4.29,"v":1.22},{"s":"Mode","t":4.31,"v":1.25},{"s":"Mode","t":4.33,"v":1.15},{"s":"Mode","t":4.35,"v":1.05},{"s":"Mode","t":4.37,"v":1.0},{"s":"Mode","t":4.39,"v":0.98},{"s":"Mode","t":4.41,"v":0.92},{"s":"Mode","t":4.43,"v":0.86},{"s":"Mode","t":4.45,"v":0.8},{"s":"Mode","t":4.47,"v":0.77},{"s":"Mode","t":4.49,"v":0.76},{"s":"Mode","t":4.51,"v":0.82},{"s":"Mode","t":4.53,"v":0.86},{"s":"Mode","t":4.55,"v":0.88},{"s":"Mode","t":4.57,"v":0.9},{"s":"Mode","t":4.59,"v":0.93},{"s":"Mode","t":4.61,"v":0.95},{"s":"Mode","t":4.63,"v":0.97},{"s":"Mode","t":4.65,"v":0.98},{"s":"Mode","t":4.67,"v":1.0},{"s":"Mode","t":4.68,"v":1.0}
]},
"layer": [
  {
    "mark": {"type": "line", "strokeWidth": 1, "clip": true},
    "encoding": {
      "x": {"field": "t", "type": "quantitative", "scale": {"domain": [0, 5], "nice": false, "zero": false},
            "axis": {"orient": "bottom", "values": [0,0.5,1,1.5,2,2.5,3,3.5,4,4.5,5], "format": "~g", "labelPadding": 10, "labelFlush": false}},
      "y": {"field": "v", "type": "quantitative", "scale": {"domain": [-0.4, 1.4], "nice": false, "zero": false},
            "axis": {"orient": "left", "values": [-0.4,-0.2,0,0.2,0.4,0.6,0.8,1,1.2,1.4], "labelExpr": "datum.value < 0 ? '-' + format(-datum.value, '~g') : format(datum.value, '~g')", "labelPadding": 6, "labelFlush": false}},
      "color": {"field": "s", "type": "nominal", "sort": null,
                "scale": {"domain": ["X-axis","Y-axis","Z-axis","Mode"], "range": ["#d81a1a","#1a1ad0","#000000","#30dd30"]},
                "legend": {"title": null, "orient": "none", "legendX": 335, "legendY": 7, "symbolType": "stroke", "symbolSize": 484, "symbolStrokeWidth": 1, "symbolOffset": 12, "fillColor": "white", "strokeColor": "#000", "padding": 3, "rowPadding": 0, "labelOffset": 26}},
      "strokeDash": {"field": "s", "type": "nominal", "sort": null,
                "scale": {"domain": ["X-axis","Y-axis","Z-axis","Mode"], "range": [[1,0],[1,0],[1,0],[6,3,1,3]]},
                "legend": {"title": null, "orient": "none", "legendX": 335, "legendY": 7, "symbolType": "stroke", "symbolSize": 484, "symbolStrokeWidth": 1, "symbolOffset": 12, "fillColor": "white", "strokeColor": "#000", "padding": 3, "rowPadding": 0, "labelOffset": 26}}
    }
  },
  {
    "mark": {"type": "point", "opacity": 0},
    "encoding": {
      "x": {"field": "t", "type": "quantitative", "axis": {"orient": "top", "values": [0,0.5,1,1.5,2,2.5,3,3.5,4,4.5,5], "labels": false}},
      "y": {"field": "v", "type": "quantitative", "axis": {"orient": "right", "values": [-0.4,-0.2,0,0.2,0.4,0.6,0.8,1,1.2,1.4], "labels": false}}
    }
  }
],
"resolve": {"axis": {"x": "independent", "y": "independent"}}
}
